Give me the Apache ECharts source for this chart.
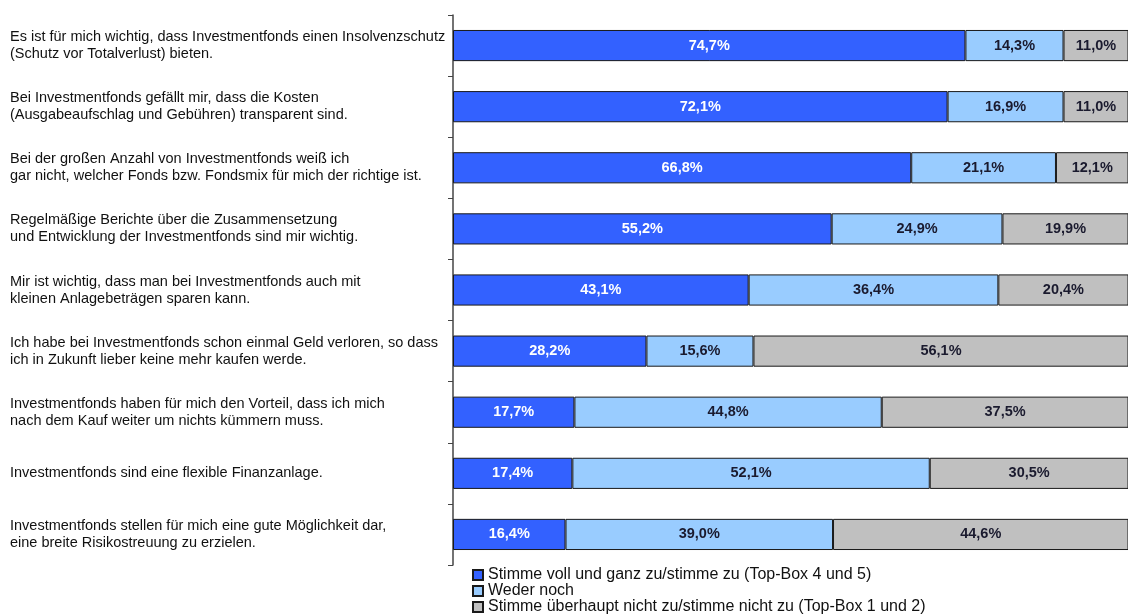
<!DOCTYPE html>
<html><head><meta charset="utf-8">
<script src="https://cdn.jsdelivr.net/npm/echarts@6/dist/echarts.min.js"></script>
<style>html,body{margin:0;padding:0;background:#fff}#c{width:1128px;height:616px}</style>
</head><body><div id="c"></div>
<script>
const categories = [
  "Es ist für mich wichtig, dass Investmentfonds einen Insolvenzschutz\n(Schutz vor Totalverlust) bieten.",
  "Bei Investmentfonds gefällt mir, dass die Kosten\n(Ausgabeaufschlag und Gebühren) transparent sind.",
  "Bei der großen Anzahl von Investmentfonds weiß ich\ngar nicht, welcher Fonds bzw. Fondsmix für mich der richtige ist.",
  "Regelmäßige Berichte über die Zusammensetzung\nund Entwicklung der Investmentfonds sind mir wichtig.",
  "Mir ist wichtig, dass man bei Investmentfonds auch mit\nkleinen Anlagebeträgen sparen kann.",
  "Ich habe bei Investmentfonds schon einmal Geld verloren, so dass\nich in Zukunft lieber keine mehr kaufen werde.",
  "Investmentfonds haben für mich den Vorteil, dass ich mich\nnach dem Kauf weiter um nichts kümmern muss.",
  "Investmentfonds sind eine flexible Finanzanlage.",
  "Investmentfonds stellen für mich eine gute Möglichkeit dar,\neine breite Risikostreuung zu erzielen."
];
const seriesNames = [
  "Stimme voll und ganz zu/stimme zu (Top-Box 4 und 5)",
  "Weder noch",
  "Stimme überhaupt nicht zu/stimme nicht zu (Top-Box 1 und 2)"
];
const topBox = [74.7, 72.1, 66.8, 55.2, 43.1, 28.2, 17.7, 17.4, 16.4];
const neutral = [14.3, 16.9, 21.1, 24.9, 36.4, 15.6, 44.8, 52.1, 39.0];
const bottomBox = [11.0, 11.0, 12.1, 19.9, 20.4, 56.1, 37.5, 30.5, 44.6];

const colors = ['#3361FF', '#99CCFF', '#C0C0C0'];
const labelColors = ['#ffffff', '#1a1a2e', '#1a1a2e'];
const fmt = p => p.value.toFixed(1).replace('.', ',') + '%';

const chart = echarts.init(document.getElementById('c'));
const mk = (name, data, i) => ({
  name, type: 'bar', stack: 'all', data, barWidth: '51%', clip: true,
  itemStyle: { color: colors[i], borderColor: '#1a1a1a', borderWidth: 1 },
  label: { show: true, position: 'inside', formatter: fmt, color: labelColors[i],
    fontFamily: 'Liberation Sans', fontWeight: 'bold', fontSize: 14.5 },
  emphasis: { disabled: true }
});
chart.setOption({
  animation: false,
  grid: { left: 453, right: 0, top: 15, bottom: 51, containLabel: false },
  xAxis: { type: 'value', min: 0, max: 98.4, show: false },
  yAxis: {
    type: 'category', data: categories, inverse: true,
    axisLine: { show: true, lineStyle: { color: '#444', width: 1.5 } },
    axisTick: { show: true, length: 5, lineStyle: { color: '#444' } },
    axisLabel: { align: 'left', margin: 443, fontFamily: 'Liberation Sans', fontSize: 14.5,
      color: '#111', lineHeight: 17, padding: [8, 0, 0, 0] }
  },
  legend: {
    orient: 'vertical', left: 472, top: 567, height: 80, padding: 0,
    itemWidth: 10, itemHeight: 10, itemGap: 0,
    icon: 'rect', selectedMode: false,
    textStyle: { fontFamily: 'Liberation Sans', fontSize: 16, lineHeight: 16, color: '#111' },
    data: seriesNames
  },
  series: [mk(seriesNames[0], topBox, 0), mk(seriesNames[1], neutral, 1), mk(seriesNames[2], bottomBox, 2)]
});
</script></body></html>
